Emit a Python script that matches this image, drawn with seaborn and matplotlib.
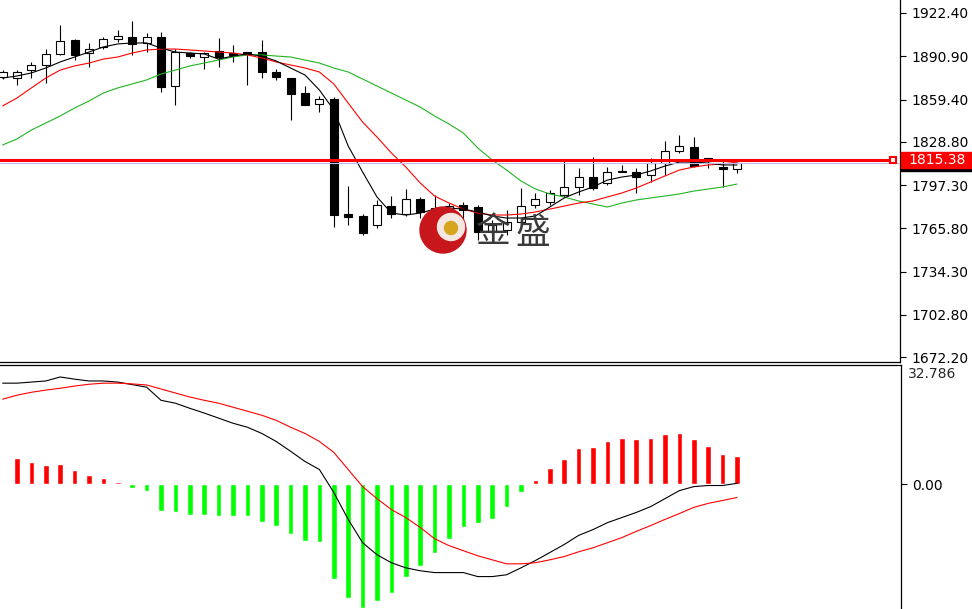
import numpy as np
import matplotlib.pyplot as plt
import matplotlib.transforms as mtransforms
from matplotlib.patches import Ellipse, Rectangle
import seaborn as sns

# OHLC of the candles, oldest first
opens = [1875.9, 1875.1, 1880.9, 1884.6, 1892.6, 1902.8, 1893.3, 1897.7, 1903.5, 1904.9,
         1900.6, 1904.9, 1869.3, 1893.3, 1890.4, 1894.8, 1893.3, 1894.0, 1894.0, 1879.5,
         1875.1, 1864.2, 1856.2, 1859.9, 1776.2, 1774.8, 1768.2, 1782.0, 1776.2, 1787.1,
         1780.6, 1779.1, 1782.8, 1781.3, 1763.1, 1764.6, 1770.4, 1782.8, 1784.9, 1790.0,
         1795.9, 1803.1, 1798.8, 1806.8, 1806.8, 1804.6, 1813.3, 1822.0, 1824.9, 1816.9,
         1810.4, 1808.9]
highs = [1880.9, 1880.9, 1886.8, 1896.2, 1913.7, 1903.5, 1900.6, 1904.9, 1910.0, 1916.6,
         1907.9, 1908.6, 1896.2, 1894.0, 1894.0, 1904.2, 1899.1, 1894.0, 1902.8, 1881.7,
         1875.1, 1869.3, 1862.0, 1861.3, 1796.6, 1776.2, 1786.4, 1789.3, 1794.4, 1788.6,
         1790.0, 1784.2, 1784.9, 1782.8, 1771.9, 1779.1, 1795.1, 1791.5, 1793.7, 1815.5,
         1809.7, 1817.7, 1810.4, 1811.9, 1809.7, 1816.9, 1829.3, 1833.7, 1832.2, 1816.9,
         1816.2, 1814.0]
lows = [1874.4, 1870.0, 1875.1, 1871.5, 1891.9, 1888.2, 1883.1, 1896.2, 1901.3, 1891.9,
        1894.0, 1864.9, 1855.5, 1889.7, 1881.7, 1883.1, 1886.8, 1870.0, 1875.1, 1873.7,
        1844.6, 1855.5, 1850.4, 1766.8, 1768.2, 1760.9, 1766.0, 1773.3, 1774.8, 1773.3,
        1776.2, 1776.2, 1770.4, 1757.3, 1760.9, 1760.9, 1768.2, 1780.6, 1782.8, 1788.6,
        1790.0, 1793.7, 1797.3, 1806.8, 1791.5, 1799.5, 1804.6, 1820.6, 1810.4, 1809.7,
        1795.9, 1806.0]
closes = [1879.5, 1879.5, 1884.6, 1892.6, 1902.0, 1891.9, 1896.2, 1903.5, 1905.7, 1899.9,
          1904.9, 1868.6, 1894.0, 1891.1, 1893.3, 1890.4, 1891.9, 1892.6, 1879.5, 1875.9,
          1863.5, 1855.5, 1859.9, 1775.5, 1774.0, 1762.4, 1782.8, 1776.2, 1787.1, 1777.7,
          1779.8, 1782.0, 1779.1, 1763.1, 1768.2, 1770.4, 1782.0, 1787.1, 1791.5, 1795.9,
          1803.1, 1795.1, 1806.8, 1807.5, 1803.1, 1813.3, 1822.0, 1825.7, 1811.1, 1816.2,
          1808.9, 1813.3]

# moving averages on the price panel
ma_black = [1875.1, 1876.6, 1878.8, 1882.4, 1886.8, 1890.4, 1894.0, 1897.7, 1899.9, 1900.6,
            1900.6, 1896.9, 1894.0, 1893.3, 1892.6, 1888.9, 1891.1, 1892.6, 1891.1, 1887.5,
            1882.4, 1877.3, 1866.4, 1851.9, 1825.7, 1806.8, 1788.6, 1776.9, 1775.5, 1776.9,
            1779.8, 1780.6, 1779.8, 1777.7, 1774.8, 1773.3, 1773.3, 1774.8, 1781.3, 1787.9,
            1792.2, 1795.9, 1800.9, 1803.1, 1804.6, 1807.5, 1811.1, 1814.0, 1814.0, 1813.3,
            1811.9, 1811.9]
ma_red = [1854.8, 1860.6, 1867.9, 1875.1, 1880.9, 1883.9, 1886.0, 1888.9, 1890.4, 1893.3,
          1895.5, 1896.2, 1896.2, 1895.5, 1894.8, 1894.0, 1893.3, 1891.9, 1889.7, 1886.8,
          1884.6, 1882.4, 1879.5, 1870.8, 1856.9, 1843.1, 1832.2, 1820.6, 1810.4, 1798.8,
          1789.3, 1784.2, 1779.8, 1776.9, 1775.5, 1775.5, 1776.2, 1777.7, 1779.8, 1782.0,
          1784.2, 1785.7, 1788.6, 1791.5, 1795.1, 1799.5, 1803.9, 1808.2, 1810.4, 1811.9,
          1812.6, 1814.0]
ma_green = [1826.4, 1830.8, 1837.3, 1842.4, 1847.5, 1853.3, 1858.4, 1864.2, 1867.9, 1870.8,
            1873.7, 1878.0, 1880.9, 1883.9, 1886.0, 1888.2, 1890.4, 1891.9, 1891.9, 1891.1,
            1890.4, 1888.2, 1886.0, 1882.4, 1879.5, 1874.4, 1869.3, 1864.2, 1859.1, 1854.0,
            1847.5, 1841.7, 1835.1, 1824.2, 1815.5, 1808.2, 1800.2, 1794.4, 1790.8, 1788.6,
            1785.7, 1783.5, 1781.3, 1784.2, 1786.4, 1787.9, 1789.3, 1790.8, 1792.9, 1794.4,
            1795.9, 1798.0]

# MACD panel (histogram starts with the second candle)
macd_dif = [27.8, 27.8, 28.1, 28.4, 29.5, 28.9, 28.4, 28.4, 28.1, 27.4,
            26.7, 23.1, 22.3, 20.9, 19.6, 18.2, 16.8, 15.7, 14.0, 11.8,
            9.1, 6.3, 4.1, -2.2, -9.6, -16.0, -19.3, -21.5, -22.9, -23.7,
            -24.2, -24.2, -24.2, -25.3, -25.3, -24.8, -22.9, -20.9, -18.7, -16.5,
            -14.0, -12.4, -10.5, -9.1, -7.7, -6.1, -3.9, -1.7, -0.6, -0.3,
            -0.3, 0.3]
macd_dea = [23.4, 24.5, 25.3, 25.9, 26.4, 27.0, 27.5, 27.8, 27.8, 27.6,
            27.3, 26.2, 25.1, 24.0, 23.1, 22.3, 21.2, 20.1, 19.0, 17.6,
            15.7, 14.0, 11.8, 8.8, 4.1, -0.6, -3.9, -6.9, -9.1, -11.8,
            -14.9, -16.8, -18.2, -19.6, -20.7, -21.8, -21.8, -21.5, -20.7, -19.8,
            -18.5, -17.4, -16.0, -14.6, -12.9, -11.3, -9.6, -8.0, -6.3, -5.2,
            -4.4, -3.6]
macd_hist = [7.2, 6.1, 5.2, 5.5, 3.9, 2.5, 1.7, 0.8, -1.1, -1.7,
             -7.2, -7.7, -8.5, -8.5, -8.8, -8.8, -8.8, -10.2, -11.3, -13.5,
             -15.4, -15.7, -25.9, -31.1, -33.9, -32.0, -29.8, -25.3, -22.3, -18.7,
             -14.9, -11.8, -10.7, -9.4, -6.3, -2.2, 1.1, 4.4, 6.9, 9.9,
             10.2, 11.8, 12.7, 12.4, 12.7, 13.8, 14.0, 12.4, 10.5, 8.3, 7.7]

price_ticks = [1922.40, 1890.90, 1859.40, 1828.80, 1797.30, 1765.80, 1734.30, 1702.80, 1672.20]
level_price = 1815.38
bid_price = 1813.6
macd_top = 32.786

sns.set_style("white")
plt.rcParams['font.family'] = ['DejaVu Sans']

W, H = 972, 609
fig = plt.figure(figsize=(W / 100, H / 100), dpi=100)
ax1 = fig.add_axes([0, 1 - 362 / H, 900 / W, 362 / H])
ax2 = fig.add_axes([0, 0, 901 / W, 244 / H])

x = np.arange(len(opens))

# candles
for i in x:
    o, h, l, c = opens[i], highs[i], lows[i], closes[i]
    ax1.vlines(i, l, h, color='black', lw=0.8, zorder=3)
    up = c >= o
    ax1.bar(i, max(abs(c - o), 0.3), bottom=min(o, c), width=0.56,
            color='white' if up else 'black', edgecolor='black', linewidth=0.8, zorder=4)

sns.lineplot(x=x, y=ma_green, ax=ax1, color='#22B422', linewidth=0.8, zorder=5)
sns.lineplot(x=x, y=ma_red, ax=ax1, color='#FF0000', linewidth=0.8, zorder=5)
sns.lineplot(x=x, y=ma_black, ax=ax1, color='black', linewidth=0.8, zorder=5)

ax1.axhline(bid_price, color='#BDBDE6', lw=0.8, zorder=5)
ax1.axhline(level_price, xmax=0.99, color='#FF0000', lw=2.2, zorder=6)
blend = mtransforms.blended_transform_factory(ax1.transAxes, ax1.transData)
ax1.plot([0.992], [level_price], transform=blend, marker='s', ms=5, mfc='white',
         mec='#FF0000', mew=1.5, clip_on=False, zorder=7)

ax1.set_xlim(-0.18, 62.32)
ax1.set_ylim(1668.6, 1931.85)
ax1.set_xticks([])
ax1.yaxis.tick_right()
ax1.set_yticks(price_ticks)
ax1.set_yticklabels([f'{v:.2f}' for v in price_ticks])
ax1.tick_params(axis='y', direction='out', length=4, width=0.8, labelsize=10, pad=4,
                colors='black')
for s in ['top', 'left']:
    ax1.spines[s].set_visible(False)
for s in ['bottom', 'right']:
    ax1.spines[s].set_color('black')
    ax1.spines[s].set_linewidth(0.9)

# MACD
bar_colors = ['#FF0000' if v > 0 else '#00FF00' for v in macd_hist]
ax2.bar(x[1:], macd_hist, width=0.38, color=bar_colors, zorder=2)
sns.lineplot(x=x, y=macd_dif, ax=ax2, color='black', linewidth=0.8, zorder=3)
sns.lineplot(x=x, y=macd_dea, ax=ax2, color='#FF0000', linewidth=0.8, zorder=3)

ax2.set_xlim(-0.18, 62.39)
ax2.set_ylim(-34.2, macd_top)
ax2.set_xticks([])
ax2.yaxis.tick_right()
ax2.set_yticks([0])
ax2.set_yticklabels(['0.00'])
ax2.tick_params(axis='y', direction='out', length=4, width=0.8, labelsize=10, pad=4,
                colors='black')
for s in ['bottom', 'left']:
    ax2.spines[s].set_visible(False)
for s in ['top', 'right']:
    ax2.spines[s].set_color('black')
    ax2.spines[s].set_linewidth(0.9)
fig.text(908 / W, 1 - 367 / H, f'{macd_top:.3f}', ha='left', va='top', fontsize=10)

# price label box on the right axis
fig.add_artist(Rectangle((901 / W, 1 - 171 / H), 71 / W, 8 / H, color='black',
                         transform=fig.transFigure, zorder=10))
fig.add_artist(Rectangle((901 / W, 1 - 168 / H), 71 / W, 16 / H, color='#FF0000',
                         transform=fig.transFigure, zorder=11))
fig.text(908 / W, 1 - 160 / H, f'{level_price:.2f}', color='white', ha='left',
         va='center', fontsize=10, zorder=12)

# watermark logo
fig.add_artist(Ellipse((443 / W, 1 - 230 / H), 46 / W, 46 / H, color='#C8161D',
                       transform=fig.transFigure, zorder=10))
fig.add_artist(Ellipse((451 / W, 1 - 227 / H), 27 / W, 27 / H, color='#F4E6E0',
                       transform=fig.transFigure, zorder=10))
fig.add_artist(Ellipse((451 / W, 1 - 228 / H), 13 / W, 13 / H, color='#D6A51E',
                       transform=fig.transFigure, zorder=10))
for ch, cx in [('金', 493), ('盛', 533)]:
    fig.text(cx / W, 1 - 233 / H, ch, family=['Noto Sans CJK SC', 'DejaVu Sans'],
             fontsize=25, color='#3A3A3A', ha='center', va='center', zorder=12)

fig.savefig('out.png', dpi=100, facecolor='white')
